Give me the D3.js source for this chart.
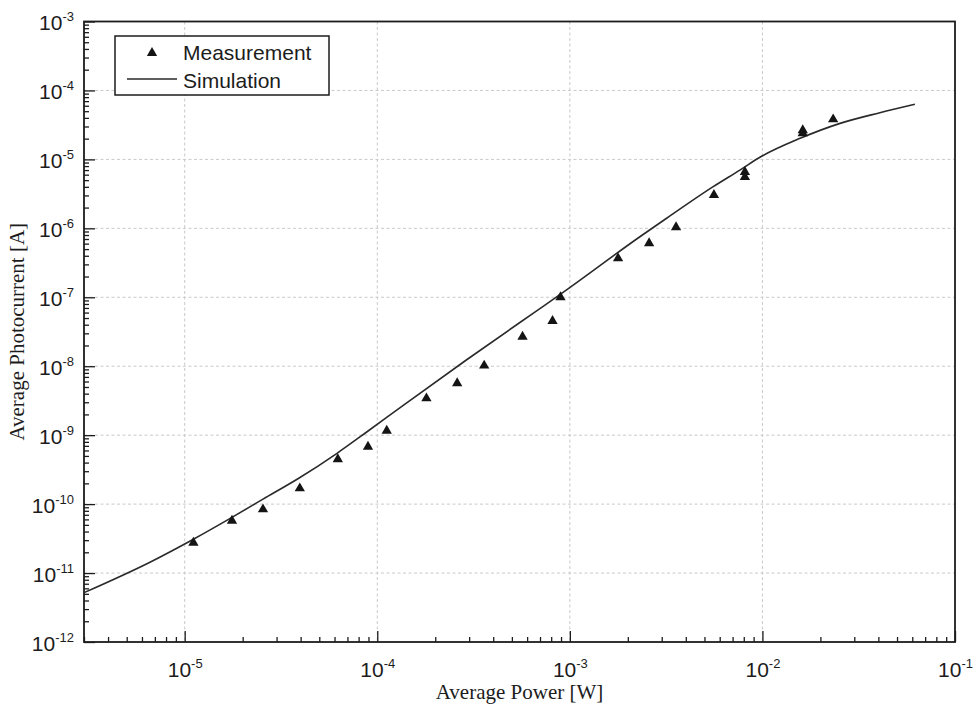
<!DOCTYPE html>
<html>
<head>
<meta charset="utf-8">
<script src="https://cdn.jsdelivr.net/npm/d3@7"></script>
<style>
  body { margin: 0; background: #ffffff; }
  svg { display: block; }
</style>
</head>
<body>
<svg id="chart" width="974" height="705"></svg>
<script>
// Measured photocurrent versus average optical power
const measPower = [1.11e-5, 1.76e-5, 2.55e-5, 3.96e-5, 6.24e-5, 8.95e-5, 1.12e-4,
                   1.80e-4, 2.60e-4, 3.59e-4, 5.68e-4, 8.13e-4, 8.94e-4, 1.78e-3,
                   2.58e-3, 3.56e-3, 5.6e-3, 8.11e-3, 8.11e-3, 1.62e-2, 1.62e-2, 2.33e-2];
const measCurrent = [2.75e-11, 5.74e-11, 8.4e-11, 1.69e-10, 4.47e-10, 6.79e-10, 1.16e-9,
                     3.42e-9, 5.65e-9, 1.02e-8, 2.68e-8, 4.53e-8, 1.0e-7, 3.67e-7,
                     6.07e-7, 1.04e-6, 3.04e-6, 6.56e-6, 5.55e-6, 2.65e-5, 2.4e-5, 3.81e-5];

// Simulated response
const simPower = [3e-6, 6.64e-6, 1.11e-5, 1.76e-5, 2.55e-5, 3.91e-5, 6.18e-5, 8.85e-5,
                  1.37e-4, 2.9e-4, 6.44e-4, 8.87e-4, 2.31e-3, 3.18e-3, 5.55e-3, 7.64e-3,
                  9.8e-3, 1.57e-2, 2.53e-2, 4.07e-2, 6.19e-2];
const simCurrent = [5.2e-12, 1.45e-11, 3.1e-11, 6.43e-11, 1.18e-10, 2.37e-10, 5.46e-10, 1.12e-9,
                    2.73e-9, 1.23e-8, 5.85e-8, 1.09e-7, 7.55e-7, 1.4e-6, 4.02e-6, 7.0e-6,
                    1.09e-5, 2.02e-5, 3.33e-5, 4.75e-5, 6.3e-5];

// Decade tick exponents
const xExponents = [-5, -4, -3, -2, -1];
const yExponents = [-12, -11, -10, -9, -8, -7, -6, -5, -4, -3];

const legendLabels = ["Measurement", "Simulation"];
const xTitle = "Average Power [W]";
const yTitle = "Average Photocurrent [A]";

const ink = "#1c1c1c";
const sans = "'Liberation Sans', Arial, Helvetica, sans-serif";
const serif = "'Liberation Serif', 'Times New Roman', serif";

const plot = { left: 84, right: 955, top: 21.5, bottom: 642 };

const svg = d3.select("#chart");

const x = d3.scaleLog().domain([3e-6, 1e-1]).range([plot.left, plot.right]);
const y = d3.scaleLog().domain([1e-12, 1e-3]).range([plot.bottom, plot.top]);

const isDecade = v => Math.abs(Math.log10(v) - Math.round(Math.log10(v))) < 1e-9;
const xMajor = xExponents.map(e => Math.pow(10, e));
const yMajor = yExponents.map(e => Math.pow(10, e));
const xMinor = x.ticks().filter(v => !isDecade(v));
const yMinor = y.ticks().filter(v => !isDecade(v));

// Dotted grid at each decade
const grid = svg.append("g")
  .attr("stroke", "#c9c9c9")
  .attr("stroke-width", 1)
  .attr("stroke-dasharray", "3,2.5");
grid.selectAll("line.gx")
  .data(xMajor.filter(v => x(v) < plot.right - 2))
  .join("line")
  .attr("x1", d => x(d)).attr("x2", d => x(d))
  .attr("y1", plot.top).attr("y2", plot.bottom);
grid.selectAll("line.gy")
  .data(yMajor.filter(v => y(v) > plot.top + 2 && y(v) < plot.bottom - 2))
  .join("line")
  .attr("x1", plot.left).attr("x2", plot.right)
  .attr("y1", d => y(d)).attr("y2", d => y(d));

// Bottom axis: inward ticks
const styleAxis = g => {
  g.select(".domain").remove();
  g.selectAll(".tick line").attr("stroke", ink).attr("stroke-width", 1.3);
};
svg.append("g")
  .attr("transform", `translate(0,${plot.bottom})`)
  .call(d3.axisBottom(x).tickValues(xMinor).tickSize(-5).tickFormat(""))
  .call(styleAxis);
const xAxisMajor = svg.append("g")
  .attr("transform", `translate(0,${plot.bottom})`)
  .call(d3.axisBottom(x).tickValues(xMajor).tickSize(-11).tickFormat(""))
  .call(styleAxis);
xAxisMajor.selectAll(".tick text").remove();
xAxisMajor.selectAll(".tick").each(function(d) {
  const t = d3.select(this).append("text")
    .attr("y", 35)
    .attr("text-anchor", "middle")
    .attr("fill", ink)
    .attr("font-family", sans)
    .attr("font-size", 21);
  t.append("tspan").text("10");
  t.append("tspan").attr("dy", -9).attr("font-size", 13).text(String(Math.round(Math.log10(d))));
});

// Left axis: inward ticks
svg.append("g")
  .attr("transform", `translate(${plot.left},0)`)
  .call(d3.axisLeft(y).tickValues(yMinor).tickSize(-5).tickFormat(""))
  .call(styleAxis);
const yAxisMajor = svg.append("g")
  .attr("transform", `translate(${plot.left},0)`)
  .call(d3.axisLeft(y).tickValues(yMajor).tickSize(-11).tickFormat(""))
  .call(styleAxis);
yAxisMajor.selectAll(".tick text").remove();
yAxisMajor.selectAll(".tick").each(function(d) {
  const t = d3.select(this).append("text")
    .attr("x", -10)
    .attr("y", 8)
    .attr("text-anchor", "end")
    .attr("fill", ink)
    .attr("font-family", sans)
    .attr("font-size", 21);
  t.append("tspan").text("10");
  t.append("tspan").attr("dy", -9).attr("font-size", 13).text(String(Math.round(Math.log10(d))));
});

// Plot frame
svg.append("rect")
  .attr("x", plot.left).attr("y", plot.top)
  .attr("width", plot.right - plot.left).attr("height", plot.bottom - plot.top)
  .attr("fill", "none").attr("stroke", ink).attr("stroke-width", 1.8);

// Simulation curve
const simData = simPower.map((p, i) => [p, simCurrent[i]]);
const line = d3.line()
  .x(d => x(d[0])).y(d => y(d[1]))
  .curve(d3.curveMonotoneX);
svg.append("path")
  .datum(simData)
  .attr("d", line)
  .attr("fill", "none")
  .attr("stroke", "#2a2a2a")
  .attr("stroke-width", 1.6);

// Measurement markers
const tri = d3.symbol().type(d3.symbolTriangle).size(46);
svg.append("g").selectAll("path")
  .data(measPower.map((p, i) => [p, measCurrent[i]]))
  .join("path")
  .attr("d", tri)
  .attr("transform", d => `translate(${x(d[0])},${y(d[1])})`)
  .attr("fill", "#141414");

// Legend
const legend = svg.append("g");
legend.append("rect")
  .attr("x", 115).attr("y", 36).attr("width", 214).attr("height", 59)
  .attr("fill", "#ffffff").attr("stroke", ink).attr("stroke-width", 1.5);
legend.append("path")
  .attr("d", tri)
  .attr("transform", "translate(152,53)")
  .attr("fill", "#141414");
legend.append("line")
  .attr("x1", 127).attr("x2", 177).attr("y1", 79).attr("y2", 79)
  .attr("stroke", "#2a2a2a").attr("stroke-width", 1.6);
legend.selectAll("text")
  .data(legendLabels)
  .join("text")
  .attr("x", 183)
  .attr("y", (d, i) => 60 + i * 28)
  .attr("fill", ink)
  .attr("font-family", sans)
  .attr("font-size", 21)
  .text(d => d);

// Axis titles
svg.append("text")
  .attr("x", (plot.left + plot.right) / 2)
  .attr("y", 699)
  .attr("text-anchor", "middle")
  .attr("fill", ink)
  .attr("font-family", serif)
  .attr("font-size", 21)
  .text(xTitle);
svg.append("text")
  .attr("transform", `translate(24,${(plot.top + plot.bottom) / 2}) rotate(-90)`)
  .attr("text-anchor", "middle")
  .attr("fill", ink)
  .attr("font-family", serif)
  .attr("font-size", 21)
  .text(yTitle);
</script>
</body>
</html>
